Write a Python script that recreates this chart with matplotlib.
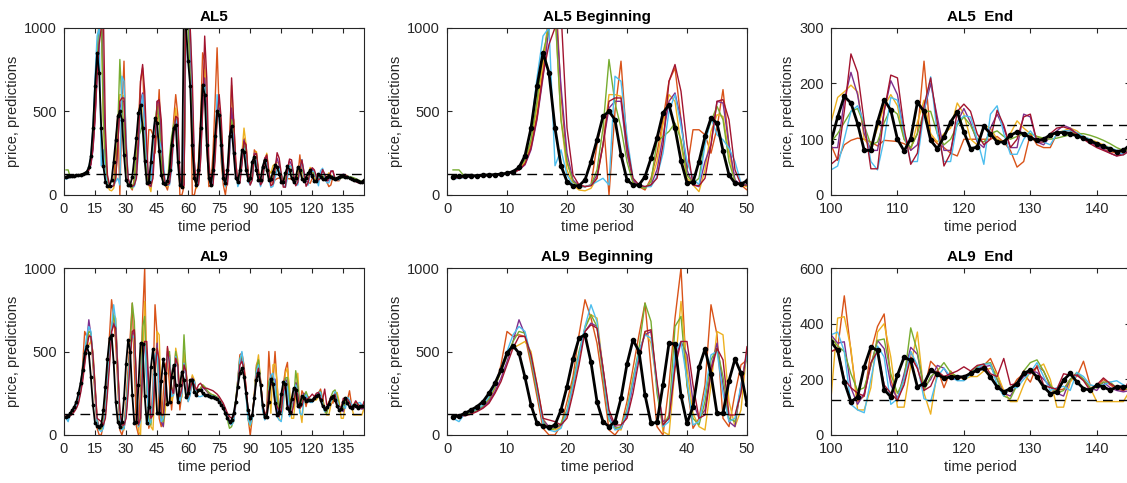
import numpy as np
import matplotlib.pyplot as plt

# realised price, market AL5 (t = 1..145)
price_al5 = [110, 112, 114, 115, 116, 118, 120, 122, 125, 130,
             140, 165, 235, 400, 650, 850, 730, 400, 175, 80,
             55, 55, 90, 200, 330, 470, 500, 450, 240, 90,
             60, 60, 110, 220, 340, 490, 540, 400, 205, 72,
             75, 200, 350, 460, 430, 265, 120, 70, 65, 85,
             150, 300, 400, 420, 200, 60, 50, 1150, 1000, 800,
             650, 300, 100, 60, 150, 400, 660, 600, 300, 100,
             60, 150, 350, 500, 480, 300, 100, 70, 150, 350,
             410, 250, 100, 80, 150, 270, 260, 150, 90, 100,
             200, 230, 150, 90, 90, 170, 210, 150, 90, 95,
             140, 177, 165, 128, 80, 80, 131, 171, 152, 100,
             79, 101, 166, 150, 98, 83, 104, 131, 149, 113,
             83, 86, 123, 110, 95, 95, 107, 113, 110, 103,
             98, 100, 108, 112, 112, 110, 106, 102, 97, 92,
             87, 82, 78, 80, 90]

# individual predictions, market AL5
pred_al5_1 = [100, 105, 108, 110, 112, 115, 118, 120, 123, 128,
              135, 150, 190, 300, 480, 750, 1100, 1300, 600, 200,
              80, 60, 50, 60, 300, 480, 0, 500, 800, 300,
              80, 50, 30, 100, 250, 450, 680, 760, 450, 150,
              390, 390, 360, 250, 400, 630, 300, 80, 60, 30,
              90, 250, 450, 600, 480, 0, 0, 50, 1300, 1400,
              900, 0, 0, 60, 200, 450, 850, 800, 300, 50,
              60, 250, 550, 880, 500, 200, 60, 0, 100, 350,
              500, 450, 200, 60, 90, 220, 340, 300, 100, 60,
              120, 270, 250, 120, 75, 100, 220, 240, 110, 90,
              62, 90, 98, 102, 100, 95, 88, 98, 97, 96,
              92, 85, 110, 240, 105, 92, 85, 75, 70, 100,
              100, 100, 100, 100, 105, 95, 80, 50, 60, 110,
              90, 85, 85, 110, 115, 115, 108, 100, 95, 88,
              82, 78, 75, 80, 85]
pred_al5_2 = [100, 108, 110, 112, 115, 117, 120, 122, 125, 130,
              138, 155, 200, 320, 520, 800, 1050, 1100, 450, 150,
              60, 30, 25, 40, 100, 300, 600, 600, 590, 250,
              80, 50, 40, 80, 200, 420, 600, 560, 300, 100,
              60, 20, 150, 380, 480, 470, 250, 80, 60, 50,
              100, 220, 400, 520, 350, 60, 40, 80, 1200, 1100,
              950, 500, 100, 40, 80, 250, 550, 750, 500, 150,
              50, 80, 300, 520, 550, 400, 150, 50, 100, 300,
              655, 420, 150, 60, 100, 250, 400, 300, 120, 70,
              100, 240, 260, 150, 80, 90, 200, 250, 150, 130,
              175, 185, 197, 185, 100, 85, 120, 160, 180, 160,
              100, 80, 130, 170, 110, 95, 110, 120, 165, 145,
              100, 90, 125, 120, 100, 95, 110, 133, 120, 110,
              105, 100, 105, 112, 115, 120, 115, 105, 100, 95,
              90, 85, 78, 75, 85]
pred_al5_3 = [100, 105, 108, 110, 113, 116, 118, 121, 124, 128,
              135, 150, 180, 270, 450, 700, 1000, 1150, 650, 250,
              90, 55, 50, 60, 120, 300, 520, 560, 560, 250,
              90, 50, 50, 60, 150, 350, 560, 610, 450, 150,
              60, 50, 200, 300, 560, 550, 300, 90, 60, 60,
              80, 200, 380, 460, 420, 100, 50, 60, 1100, 1200,
              850, 550, 150, 50, 70, 220, 520, 700, 500, 150,
              60, 70, 250, 480, 520, 350, 120, 60, 80, 280,
              520, 380, 150, 70, 90, 200, 330, 270, 120, 70,
              110, 250, 240, 120, 70, 100, 220, 230, 120, 85,
              85, 170, 220, 180, 110, 80, 80, 150, 205, 180,
              110, 80, 90, 150, 200, 140, 80, 80, 130, 155,
              130, 95, 85, 120, 145, 120, 85, 85, 145, 140,
              95, 90, 105, 115, 125, 120, 110, 100, 95, 88,
              82, 75, 70, 75, 82]
pred_al5_4 = [150, 150, 108, 110, 113, 116, 119, 122, 125, 130,
              140, 160, 210, 330, 560, 850, 1000, 1100, 450, 200,
              80, 50, 50, 60, 150, 400, 810, 550, 400, 200,
              70, 50, 40, 80, 320, 350, 380, 430, 330, 120,
              70, 100, 330, 440, 530, 450, 200, 80, 60, 60,
              230, 350, 420, 450, 300, 80, 50, 100, 1200, 1000,
              700, 450, 150, 60, 100, 300, 600, 650, 400, 120,
              70, 100, 300, 450, 500, 350, 120, 70, 110, 300,
              450, 380, 160, 80, 100, 220, 300, 250, 120, 80,
              110, 220, 230, 130, 80, 100, 200, 210, 130, 95,
              110, 130, 150, 155, 125, 90, 95, 130, 155, 145,
              100, 85, 110, 150, 150, 110, 90, 100, 125, 140,
              125, 100, 95, 110, 115, 105, 100, 105, 110, 110,
              105, 102, 100, 102, 105, 108, 110, 110, 107, 103,
              98, 92, 85, 80, 82]
pred_al5_5 = [95, 100, 105, 108, 112, 115, 118, 120, 123, 128,
              140, 165, 230, 400, 700, 950, 1000, 175, 270, 120,
              60, 50, 50, 60, 80, 100, 60, 710, 680, 350,
              100, 60, 50, 50, 110, 250, 500, 600, 410, 200,
              100, 60, 300, 460, 360, 330, 280, 200, 70, 60,
              60, 150, 350, 450, 400, 100, 50, 300, 1000, 1100,
              1000, 600, 200, 60, 80, 250, 600, 650, 350, 100,
              60, 80, 280, 600, 450, 250, 100, 50, 100, 250,
              400, 350, 150, 50, 80, 200, 280, 200, 80, 60,
              100, 200, 210, 100, 50, 90, 190, 200, 100, 45,
              52, 100, 150, 160, 130, 60, 45, 100, 175, 170,
              110, 60, 60, 150, 212, 110, 60, 60, 130, 142,
              140, 100, 55, 145, 160, 110, 73, 73, 100, 115,
              100, 95, 90, 110, 115, 115, 112, 105, 100, 92,
              88, 85, 80, 72, 80]
pred_al5_6 = [100, 103, 106, 110, 112, 115, 118, 120, 123, 128,
              135, 150, 185, 280, 460, 720, 900, 1000, 1100, 400,
              120, 60, 50, 55, 100, 300, 560, 580, 580, 300,
              100, 60, 50, 60, 100, 300, 680, 780, 620, 300,
              60, 55, 100, 300, 560, 570, 450, 150, 60, 60,
              70, 180, 350, 470, 460, 120, 40, 60, 1300, 1500,
              1000, 700, 200, 60, 60, 200, 500, 950, 700, 200,
              60, 60, 200, 450, 600, 450, 200, 70, 60, 250,
              700, 450, 200, 80, 70, 180, 320, 300, 130, 60,
              90, 240, 250, 140, 60, 80, 210, 240, 140, 55,
              65, 150, 253, 220, 130, 47, 47, 150, 215, 210,
              120, 55, 75, 160, 210, 130, 52, 75, 150, 163,
              150, 110, 90, 100, 152, 125, 85, 100, 140, 145,
              95, 95, 110, 120, 122, 118, 110, 100, 92, 85,
              80, 75, 70, 72, 80]

# realised price, market AL9 (t = 1..145)
price_al9 = [110, 115, 130, 150, 170, 200, 250, 310, 390, 490,
             535, 490, 345, 180, 70, 55, 45, 60, 150, 290,
             455, 580, 600, 435, 200, 80, 50, 80, 220, 425,
             570, 500, 240, 70, 75, 300, 550, 545, 235, 70,
             170, 405, 515, 365, 130, 130, 325, 455, 370, 185,
             200, 350, 420, 300, 200, 300, 380, 330, 230, 250,
             330, 330, 260, 240, 270, 270, 250, 240, 240, 235,
             230, 225, 220, 215, 200, 180, 160, 130, 100, 80,
             90, 130, 200, 290, 370, 400, 350, 250, 150, 100,
             120, 220, 330, 370, 300, 180, 110, 110, 200, 335,
             304, 191, 119, 137, 245, 316, 304, 163, 137, 215,
             280, 268, 173, 185, 233, 220, 203, 209, 209, 209,
             221, 233, 239, 209, 173, 155, 167, 185, 221, 233,
             209, 173, 149, 155, 197, 221, 191, 167, 161, 179,
             173, 161, 173, 173, 175]

# individual predictions, market AL9
pred_al9_1 = [120, 110, 125, 135, 150, 170, 210, 280, 420, 620,
              590, 600, 590, 420, 230, 40, 0, 0, 60, 200,
              350, 600, 810, 700, 550, 300, 30, 0, 50, 200,
              400, 600, 790, 400, 50, 0, 300, 700, 1000, 300,
              40, 100, 300, 780, 600, 100, 50, 250, 420, 450,
              300, 150, 300, 500, 400, 150, 250, 450, 380, 200,
              250, 350, 320, 240, 260, 280, 300, 280, 260, 250,
              240, 235, 230, 225, 210, 190, 170, 140, 110, 70,
              60, 100, 200, 330, 480, 490, 420, 280, 100, 0,
              100, 250, 420, 450, 300, 150, 100, 150, 500,
              300, 310, 500, 300, 120, 140, 300, 390, 435, 200,
              120, 200, 300, 240, 160, 265, 240, 170, 230, 200,
              210, 220, 230, 250, 275, 220, 150, 160, 200, 220,
              190, 250, 230, 175, 160, 165, 200, 210, 265, 180,
              170, 200, 180, 165, 160, 170]
pred_al9_2 = [105, 115, 120, 130, 150, 175, 220, 290, 380, 480,
              520, 540, 560, 500, 300, 100, 40, 30, 50, 120,
              280, 450, 650, 720, 700, 400, 130, 40, 30, 150,
              350, 480, 620, 550, 300, 20, 0, 400, 800, 400,
              130, 50, 30, 300, 620, 600, 200, 50, 150, 520,
              450, 200, 250, 520, 450, 200, 230, 500, 400, 220,
              250, 360, 330, 250, 260, 280, 290, 280, 265, 255,
              245, 240, 235, 228, 215, 195, 175, 150, 120, 80,
              60, 80, 180, 300, 450, 480, 400, 250, 100, 50,
              100, 230, 400, 480, 320, 180, 100, 120, 300,
              130, 420, 425, 310, 90, 90, 170, 370, 400, 280,
              100, 100, 250, 370, 150, 75, 230, 200, 220, 210,
              200, 210, 210, 230, 240, 220, 160, 120, 120, 180,
              230, 240, 255, 200, 100, 100, 190, 220, 200, 170,
              120, 120, 120, 120, 120, 160]
pred_al9_3 = [110, 108, 118, 130, 145, 165, 200, 260, 340, 440,
              560, 690, 600, 460, 280, 90, 50, 40, 60, 130,
              300, 480, 620, 670, 650, 400, 120, 50, 40, 120,
              300, 500, 600, 620, 300, 80, 100, 450, 560, 480,
              200, 100, 150, 400, 550, 300, 80, 50, 300, 500,
              480, 250, 260, 480, 400, 200, 260, 420, 360, 220,
              260, 340, 320, 250, 265, 275, 285, 275, 262, 252,
              242, 236, 232, 226, 212, 192, 172, 145, 115, 85,
              70, 90, 190, 310, 430, 460, 380, 250, 120, 80,
              110, 220, 380, 420, 320, 180, 110, 130, 280,
              360, 330, 335, 170, 110, 150, 250, 340, 310, 180,
              130, 220, 315, 290, 170, 200, 250, 240, 200, 200,
              210, 220, 240, 245, 250, 200, 150, 140, 180, 210,
              230, 225, 200, 175, 150, 140, 200, 220, 200, 170,
              160, 190, 170, 160, 155, 160]
pred_al9_4 = [110, 112, 122, 135, 150, 175, 220, 290, 380, 470,
              560, 620, 610, 450, 260, 80, 30, 40, 70, 150,
              320, 500, 640, 720, 650, 350, 90, 40, 50, 150,
              330, 520, 790, 680, 250, 50, 120, 650, 710, 300,
              100, 60, 200, 450, 520, 350, 100, 80, 280, 480,
              500, 280, 280, 500, 420, 200, 300, 600, 380, 220,
              260, 330, 310, 250, 270, 280, 300, 290, 270, 255,
              245, 240, 235, 225, 210, 190, 165, 130, 90, 40,
              50, 100, 210, 330, 460, 470, 380, 240, 100, 60,
              110, 240, 400, 450, 330, 170, 100, 140, 320,
              350, 320, 300, 220, 160, 170, 250, 340, 345, 220,
              150, 200, 385, 300, 160, 210, 230, 260, 225, 210,
              205, 225, 245, 255, 260, 200, 140, 130, 180, 230,
              260, 270, 230, 180, 150, 160, 200, 225, 200, 170,
              170, 190, 190, 170, 165, 170]
pred_al9_5 = [100, 80, 130, 140, 155, 180, 230, 300, 400, 500,
              600, 650, 620, 470, 280, 70, 30, 20, 40, 140,
              300, 480, 650, 780, 680, 380, 100, 30, 40, 140,
              320, 500, 600, 580, 300, 50, 80, 500, 560, 330,
              60, 80, 250, 480, 500, 250, 80, 100, 300, 480,
              460, 230, 240, 470, 400, 200, 250, 430, 360, 200,
              240, 330, 320, 245, 230, 230, 235, 240, 240, 238,
              236, 232, 228, 222, 208, 188, 168, 138, 105, 70,
              60, 80, 180, 320, 450, 500, 390, 230, 90, 60,
              100, 220, 380, 420, 300, 150, 90, 120, 260,
              360, 370, 300, 110, 90, 80, 200, 320, 280, 110,
              130, 200, 300, 250, 130, 120, 210, 240, 210, 195,
              195, 220, 240, 255, 255, 180, 140, 170, 170, 200,
              225, 260, 210, 160, 170, 175, 160, 225, 210, 180,
              175, 180, 190, 195, 180, 170]
pred_al9_6 = [120, 118, 115, 125, 140, 160, 190, 250, 320, 420,
              520, 590, 590, 480, 300, 100, 90, 80, 60, 100,
              250, 420, 620, 660, 640, 400, 150, 60, 60, 100,
              250, 450, 620, 630, 320, 60, 100, 400, 560, 560,
              300, 100, 120, 380, 520, 450, 120, 120, 250, 530,
              420, 280, 250, 460, 420, 230, 280, 420, 380, 230,
              280, 320, 300, 270, 300, 310, 290, 280, 280, 275,
              270, 265, 255, 245, 230, 210, 190, 160, 130, 110,
              100, 110, 190, 300, 420, 440, 400, 280, 150, 100,
              120, 230, 350, 400, 320, 190, 120, 140, 260,
              300, 310, 200, 170, 150, 140, 260, 300, 180, 150,
              125, 180, 280, 240, 160, 175, 230, 210, 220, 230,
              245, 230, 250, 255, 220, 210, 275, 180, 185, 230,
              220, 245, 180, 170, 165, 220, 215, 215, 195, 160,
              180, 205, 185, 170, 160, 200]

fundamental_al5 = 126
fundamental_al9 = 124

pred_colors = ['#D95319', '#EDB120', '#7E2F8E', '#77AC30', '#4DBEEE', '#A2142F']

preds_al5 = [pred_al5_1, pred_al5_2, pred_al5_3, pred_al5_4, pred_al5_5, pred_al5_6]
preds_al9 = [pred_al9_1, pred_al9_2, pred_al9_3, pred_al9_4, pred_al9_5, pred_al9_6]

axcol = '#262626'
plt.rcParams['font.family'] = ['Liberation Sans', 'DejaVu Sans']

fig = plt.figure(figsize=(11.27, 4.83), dpi=100)

W, H = 1127.0, 483.0
lefts = [64, 447, 831]
widths = [300, 300, 299]
rows = [(27.7, 195), (268, 435)]


def panel(ax, price, preds, fund, title, xlim, xticks, ylim, yticks, big):
    for s, c in zip(preds, pred_colors):
        ax.plot(np.arange(1, len(s) + 1), s, color=c, lw=1.0)
    ax.plot(np.arange(1, len(price) + 1), price, color='black',
            lw=1.3 if big else 2.0, marker='.', ms=3.5 if big else 6)
    ax.axhline(fund, color='black', lw=1.0, ls=(0, (7, 4.5)))
    ax.set_xlim(xlim)
    ax.set_ylim(ylim)
    ax.set_xticks(xticks)
    ax.set_yticks(yticks)
    ax.set_title(title, fontsize=11, fontweight='bold', pad=5)
    ax.set_xlabel('time period', fontsize=10.5, color=axcol, labelpad=3)
    ax.set_ylabel('price, predictions', fontsize=10.5, color=axcol, labelpad=3)
    ax.tick_params(direction='in', top=True, right=True, length=3.5,
                   width=0.8, colors=axcol, labelsize=10.5, pad=5)
    for sp in ax.spines.values():
        sp.set_color(axcol)
        sp.set_linewidth(0.8)


setups = [
    (price_al5, preds_al5, fundamental_al5, ['AL5', 'AL5 Beginning', 'AL5  End'],
     [(0, 0, 145, range(0, 136, 15), (0, 1000), [0, 500, 1000]),
      (0, 0, 50, range(0, 51, 10), (0, 1000), [0, 500, 1000]),
      (0, 100, 145, range(100, 141, 10), (0, 300), [0, 100, 200, 300])]),
    (price_al9, preds_al9, fundamental_al9, ['AL9', 'AL9  Beginning', 'AL9  End'],
     [(0, 0, 145, range(0, 136, 15), (0, 1000), [0, 500, 1000]),
      (0, 0, 50, range(0, 51, 10), (0, 1000), [0, 500, 1000]),
      (0, 100, 145, range(100, 141, 10), (0, 600), [0, 200, 400, 600])]),
]

for r, (price, preds, fund, titles, specs) in enumerate(setups):
    top, bot = rows[r]
    for c in range(3):
        _, x0, x1, xt, yl, yt = specs[c]
        ax = fig.add_axes([lefts[c] / W, (H - bot) / H, widths[c] / W, (bot - top) / H])
        panel(ax, price, preds, fund, titles[c], (x0, x1), list(xt), yl, yt, c == 0)

fig.savefig('out.png', dpi=100)
